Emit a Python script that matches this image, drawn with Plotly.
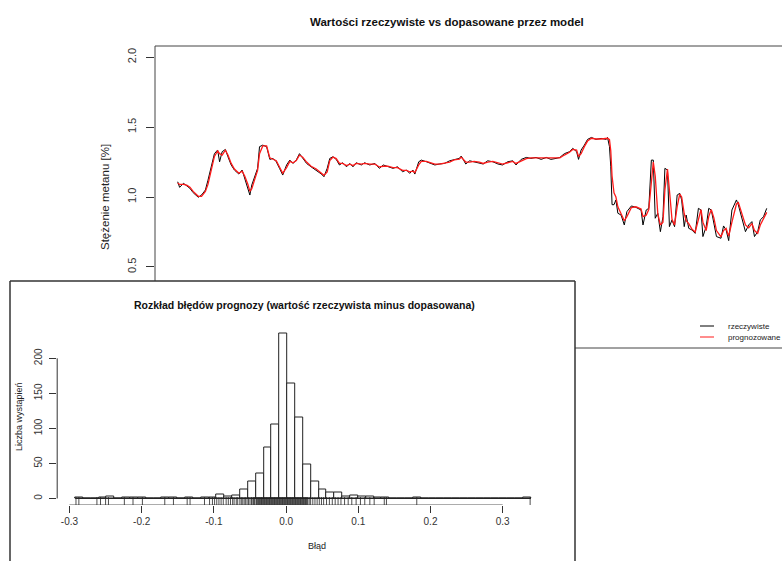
import plotly.graph_objects as go

# ---------------- data: main time series ----------------
obs = [1, 4, 10, 15, 20, 25, 33, 38, 44, 48, 53, 58, 63, 66, 70, 75, 79, 84, 89, 96,
       101, 105, 110, 113, 116, 121, 125, 128, 133, 139, 144, 149, 154, 159, 164, 170, 175, 180, 185, 190,
       195, 201, 208, 216, 224, 228, 233, 237, 242, 247, 252, 257, 263, 268, 273, 278, 286, 291, 299, 307,
       314, 320, 327, 335, 342, 350, 356, 361, 366, 369, 375, 379, 387, 394, 400, 407, 415, 423, 430, 438,
       441, 448, 454, 461, 469, 475, 482, 490, 498, 505, 513, 521, 526, 534, 542, 549, 557, 565, 573, 580,
       588, 594, 601, 609, 614, 620, 623, 627, 632, 637, 643, 650, 658, 666, 668, 671, 673, 675, 678, 681,
       684, 689, 694, 698, 705, 712, 720, 723, 728, 732, 736, 739, 742, 746, 750, 754, 757, 761, 764, 768,
       772, 776, 780, 783, 787, 790, 794, 799, 804, 809, 813, 816, 821, 825, 829, 833, 837, 844, 848, 852,
       856, 861, 868, 871, 876, 882, 887, 892, 896, 901, 905, 910, 915]

actual = [1.109, 1.069, 1.098, 1.079, 1.062, 1.031, 0.998, 1.014, 1.050, 1.120, 1.216, 1.310, 1.336, 1.252, 1.324, 1.340, 1.288, 1.229, 1.193, 1.164,
          1.193, 1.133, 1.069, 1.014, 1.086, 1.145, 1.205, 1.360, 1.371, 1.360, 1.269, 1.276, 1.252, 1.205, 1.157, 1.229, 1.264, 1.240, 1.264, 1.310,
          1.276, 1.240, 1.216, 1.193, 1.164, 1.145, 1.205, 1.276, 1.288, 1.269, 1.229, 1.245, 1.216, 1.240, 1.216, 1.245, 1.229, 1.245, 1.229, 1.240,
          1.205, 1.229, 1.216, 1.205, 1.216, 1.181, 1.193, 1.169, 1.193, 1.164, 1.252, 1.264, 1.252, 1.240, 1.229, 1.236, 1.240, 1.259, 1.269, 1.276,
          1.293, 1.236, 1.259, 1.252, 1.245, 1.236, 1.259, 1.252, 1.236, 1.229, 1.252, 1.259, 1.229, 1.269, 1.283, 1.276, 1.283, 1.269, 1.283, 1.269,
          1.276, 1.283, 1.310, 1.324, 1.348, 1.324, 1.269, 1.336, 1.371, 1.412, 1.426, 1.412, 1.419, 1.412, 1.426, 1.360, 1.216, 0.945, 0.945, 0.979,
          0.884, 0.871, 0.800, 0.895, 0.936, 0.926, 0.907, 0.800, 0.907, 0.919, 1.264, 1.264, 0.848, 0.884, 0.752, 0.859, 1.205, 1.193, 0.788, 0.836,
          0.788, 1.014, 1.026, 0.979, 0.788, 0.871, 0.776, 0.764, 0.740, 0.919, 0.907, 0.717, 0.788, 0.919, 0.907, 0.800, 0.717, 0.705, 0.793, 0.764,
          0.688, 0.907, 0.979, 0.943, 0.859, 0.752, 0.800, 0.824, 0.717, 0.752, 0.836, 0.859, 0.919]

fitted = [1.100, 1.090, 1.090, 1.085, 1.070, 1.040, 1.005, 1.005, 1.040, 1.090, 1.190, 1.290, 1.330, 1.310, 1.300, 1.335, 1.300, 1.240, 1.200, 1.170,
          1.185, 1.150, 1.090, 1.040, 1.060, 1.130, 1.190, 1.310, 1.365, 1.365, 1.280, 1.270, 1.260, 1.215, 1.170, 1.210, 1.255, 1.245, 1.260, 1.300,
          1.285, 1.250, 1.220, 1.200, 1.170, 1.155, 1.180, 1.260, 1.285, 1.275, 1.240, 1.240, 1.225, 1.235, 1.225, 1.240, 1.235, 1.240, 1.235, 1.235,
          1.215, 1.220, 1.220, 1.210, 1.210, 1.190, 1.190, 1.180, 1.185, 1.175, 1.230, 1.255, 1.255, 1.245, 1.235, 1.235, 1.240, 1.250, 1.265, 1.270,
          1.285, 1.250, 1.250, 1.255, 1.250, 1.240, 1.250, 1.255, 1.245, 1.235, 1.245, 1.255, 1.240, 1.255, 1.275, 1.280, 1.280, 1.275, 1.275, 1.275,
          1.275, 1.280, 1.300, 1.320, 1.340, 1.335, 1.290, 1.310, 1.360, 1.400, 1.420, 1.415, 1.415, 1.415, 1.420, 1.410, 1.330, 1.150, 1.030, 1.000,
          0.930, 0.880, 0.830, 0.860, 0.925, 0.930, 0.915, 0.860, 0.870, 0.910, 1.100, 1.250, 1.150, 0.880, 0.800, 0.820, 1.050, 1.200, 1.050, 0.840,
          0.800, 0.930, 1.020, 1.000, 0.880, 0.830, 0.810, 0.770, 0.750, 0.840, 0.910, 0.820, 0.760, 0.860, 0.910, 0.850, 0.760, 0.715, 0.760, 0.775,
          0.720, 0.820, 0.950, 0.960, 0.890, 0.800, 0.780, 0.810, 0.760, 0.740, 0.800, 0.850, 0.890]

# ---------------- data: error histogram ----------------
bin_start = -0.292
bin_width = 0.01088
counts = [2, 0, 0, 1, 3, 0, 1, 1, 1, 0,
          0, 1, 1, 0, 2, 0, 1, 2, 5, 3,
          4, 13, 24, 36, 73, 105, 235, 164, 115, 48,
          24, 13, 8, 9, 3, 4, 3, 3, 1, 2,
          0, 0, 0, 2, 0, 0, 0, 0, 0, 0,
          0, 0, 0, 0, 0, 0, 0, 2]

rug_values = [-0.291, -0.287, -0.262, -0.257, -0.250, -0.246, -0.224, -0.212, -0.199, -0.168,
              -0.156, -0.137, -0.133, -0.113, -0.106, -0.102, -0.099, -0.096, -0.093, -0.090,
              -0.087, -0.083, -0.080, -0.077, -0.074, -0.072, -0.069, -0.067, -0.064, -0.062,
              -0.060, -0.058, -0.056, -0.054, -0.052, -0.050, -0.048, -0.047, -0.045, -0.044,
              -0.043, -0.041, -0.040, -0.039, -0.038, -0.037, -0.036, -0.035, -0.034, -0.033,
              -0.032, -0.031, -0.030, -0.029, -0.028, -0.027, -0.026, -0.025, -0.024, -0.023,
              -0.022, -0.021, -0.020, -0.019, -0.018, -0.017, -0.016, -0.015, -0.014, -0.013,
              -0.012, -0.011, -0.010, -0.009, -0.008, -0.007, -0.006, -0.005, -0.004, -0.003,
              -0.002, -0.001, 0.000, 0.001, 0.002, 0.003, 0.004, 0.005, 0.006, 0.007,
              0.008, 0.009, 0.010, 0.011, 0.012, 0.013, 0.014, 0.015, 0.016, 0.017,
              0.018, 0.019, 0.020, 0.021, 0.022, 0.023, 0.024, 0.025, 0.026, 0.027,
              0.028, 0.029, 0.030, 0.032, 0.034, 0.037, 0.040, 0.043, 0.046, 0.049,
              0.052, 0.056, 0.060, 0.064, 0.068, 0.072, 0.076, 0.081, 0.086, 0.091,
              0.097, 0.103, 0.109, 0.116, 0.122, 0.136, 0.139, 0.181, 0.338]

main_yticks = [0.5, 1.0, 1.5, 2.0]
main_yticktext = ["0.5", "1.0", "1.5", "2.0"]
hist_xticks = [-0.3, -0.2, -0.1, 0.0, 0.1, 0.2, 0.3]
hist_xticktext = ["-0.3", "-0.2", "-0.1", "0.0", "0.1", "0.2", "0.3"]
hist_yticks = [0, 50, 100, 150, 200]

W, H = 782, 561
FONT = "Liberation Sans, Arial, sans-serif"
def px(x):
    return x / W
def py(y):
    return 1 - y / H

centers = [bin_start + (k + 0.5) * bin_width for k in range(len(counts))]
hist_end = bin_start + len(counts) * bin_width
RED = "#ff1a1a"

fig = go.Figure()
fig.add_trace(go.Scatter(x=obs, y=actual, mode="lines", line=dict(color="black", width=1),
                         xaxis="x", yaxis="y", showlegend=False, hoverinfo="skip"))
fig.add_trace(go.Scatter(x=obs, y=fitted, mode="lines", line=dict(color=RED, width=1.3),
                         xaxis="x", yaxis="y", showlegend=False, hoverinfo="skip"))

fig.add_trace(go.Bar(x=centers, y=counts, width=bin_width,
                     marker=dict(color="white", line=dict(color="#222222", width=1)),
                     xaxis="x2", yaxis="y2", showlegend=False, hoverinfo="skip"))
fig.add_trace(go.Scatter(x=rug_values, y=[-5] * len(rug_values), mode="markers",
                         marker=dict(symbol="line-ns-open", size=7, color="#222222",
                                     line=dict(color="#222222", width=0.8)),
                         xaxis="x2", yaxis="y2", showlegend=False, hoverinfo="skip"))

axis_common = dict(showgrid=False, zeroline=False, showline=False)
fig.update_layout(
    width=W, height=H, autosize=False,
    margin=dict(l=0, r=0, t=0, b=0),
    paper_bgcolor="white", plot_bgcolor="rgba(0,0,0,0)",
    font=dict(family=FONT, color="#222222"),
    xaxis=dict(domain=[px(155), 1.0], range=[-34.2, 938.7], showticklabels=False, ticks="", **axis_common),
    yaxis=dict(domain=[py(348), py(46)], range=[-0.08, 2.08], tickvals=main_yticks, ticktext=main_yticktext,
               ticks="outside", ticklen=8, tickcolor="#333333", tickangle=-90,
               tickfont=dict(size=11, family=FONT, color="#333333"), ticklabelstandoff=6, **axis_common),
    xaxis2=dict(domain=[px(57.2), px(548.9)], range=[-0.317, 0.364], anchor="y2",
                tickvals=hist_xticks, ticktext=hist_xticktext, ticks="outside", ticklen=7, tickcolor="#333333",
                tickfont=dict(size=10, family=FONT, color="#333333"), **axis_common),
    yaxis2=dict(domain=[py(505.1), py(326.5)], range=[-9.44, 245.4], anchor="x2",
                tickvals=hist_yticks, ticks="outside", ticklen=7, tickcolor="#333333", tickangle=-90,
                tickfont=dict(size=10, family=FONT, color="#333333"), ticklabelstandoff=3, **axis_common),
    bargap=0,
)

shapes = []
box = dict(color="#444444", width=1)
shapes.append(dict(type="line", xref="paper", yref="paper", x0=px(155), x1=1.0, y0=py(46), y1=py(46), line=box))
shapes.append(dict(type="line", xref="paper", yref="paper", x0=px(155), x1=px(155), y0=py(46), y1=py(281), line=box))
shapes.append(dict(type="line", xref="paper", yref="paper", x0=px(575), x1=1.0, y0=py(348), y1=py(348), line=box))
inset = dict(color="#333333", width=1.5)
shapes.append(dict(type="line", xref="paper", yref="paper", x0=px(10), x1=px(575), y0=py(281), y1=py(281), line=inset))
shapes.append(dict(type="line", xref="paper", yref="paper", x0=px(10), x1=px(10), y0=py(281), y1=-0.02, line=inset))
shapes.append(dict(type="line", xref="paper", yref="paper", x0=px(575), x1=px(575), y0=py(281), y1=-0.02, line=inset))
ax = dict(color="#333333", width=1)
shapes.append(dict(type="line", xref="x2", yref="y2", x0=hist_xticks[0], x1=hist_xticks[-1], y0=-9.44, y1=-9.44, line=ax))
shapes.append(dict(type="line", xref="paper", yref="y2", x0=px(57.2), x1=px(57.2), y0=hist_yticks[0], y1=hist_yticks[-1], line=ax))
shapes.append(dict(type="line", xref="x2", yref="y2", x0=bin_start, x1=hist_end, y0=0, y1=0, line=dict(color="#222222", width=1)))
shapes.append(dict(type="line", xref="paper", yref="paper", x0=px(700), x1=px(714), y0=py(326), y1=py(326), line=dict(color="black", width=1)))
shapes.append(dict(type="line", xref="paper", yref="paper", x0=px(700), x1=px(714), y0=py(337), y1=py(337), line=dict(color=RED, width=1)))
fig.update_layout(shapes=shapes)

ann = []
ann.append(dict(text="<b>Wartości rzeczywiste vs dopasowane przez model</b>", x=px(447), y=py(22), xref="paper", yref="paper",
                showarrow=False, font=dict(size=11.5, family=FONT, color="#111111"), xanchor="center", yanchor="middle"))
ann.append(dict(text="Stężenie metanu [%]", x=px(105), y=py(197), xref="paper", yref="paper", textangle=-90,
                showarrow=False, font=dict(size=11.5, family=FONT, color="#222222"), xanchor="center", yanchor="middle"))
ann.append(dict(text="rzeczywiste", x=px(726), y=py(326), xref="paper", yref="paper", showarrow=False,
                font=dict(size=8, family=FONT, color="#222222"), xanchor="left", yanchor="middle"))
ann.append(dict(text="prognozowane", x=px(726), y=py(337), xref="paper", yref="paper", showarrow=False,
                font=dict(size=8, family=FONT, color="#222222"), xanchor="left", yanchor="middle"))
ann.append(dict(text="<b>Rozkład błędów prognozy (wartość rzeczywista minus dopasowana)</b>", x=px(304), y=py(305),
                xref="paper", yref="paper", showarrow=False, font=dict(size=10.5, family=FONT, color="#111111"),
                xanchor="center", yanchor="middle"))
ann.append(dict(text="Liczba wystąpień", x=px(19), y=py(417), xref="paper", yref="paper", textangle=-90,
                showarrow=False, font=dict(size=9, family=FONT, color="#222222"), xanchor="center", yanchor="middle"))
ann.append(dict(text="Błąd", x=px(317), y=py(546), xref="paper", yref="paper", showarrow=False,
                font=dict(size=9, family=FONT, color="#222222"), xanchor="center", yanchor="middle"))
fig.update_layout(annotations=ann)

fig.write_html("out.html", config={"displayModeBar": False},
               post_script="document.body.style.margin='0px';document.body.style.padding='0px';")
